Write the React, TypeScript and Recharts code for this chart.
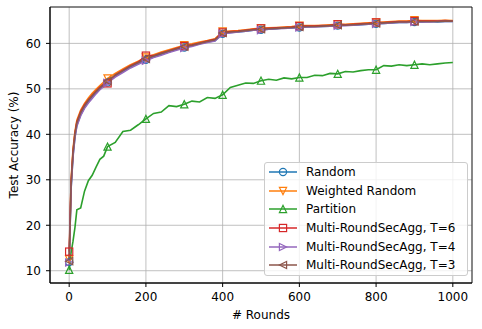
import React from 'react';
import { LineChart, Line, XAxis, YAxis, CartesianGrid, Legend, ReferenceArea } from 'recharts';

const rounds = [
  0, 5, 10, 15, 20, 30, 40, 50, 60, 70, 80, 90, 100, 120, 140, 160, 180, 200, 220, 240,
  260, 280, 300, 320, 340, 360, 380, 400, 420, 440, 460, 480, 500, 520, 540, 560, 580, 600, 620, 640,
  660, 680, 700, 720, 740, 760, 780, 800, 820, 840, 860, 880, 900, 920, 940, 960, 980, 1000,
];

const randomAcc = [
  11.9, 28.2, 35.3, 39.4, 42.0, 44.3, 45.9, 47.2, 48.2, 49.1,
  50.0, 50.7, 51.4, 52.8, 53.8, 54.8, 55.6, 56.4, 57.0, 57.6,
  58.1, 58.7, 59.1, 59.5, 59.9, 60.3, 60.6, 62.1, 62.4, 62.5,
  62.7, 62.9, 63.0, 63.1, 63.2, 63.4, 63.4, 63.5, 63.6, 63.7,
  63.7, 63.8, 63.9, 64.0, 64.0, 64.1, 64.2, 64.3, 64.4, 64.5,
  64.6, 64.6, 64.7, 64.7, 64.8, 64.7, 64.8, 64.8,
];

const weightedAcc = [
  12.5, 30.0, 36.8, 40.6, 43.1, 45.3, 46.8, 48.0, 49.0, 49.9,
  50.7, 51.5, 52.3, 53.4, 54.4, 55.3, 56.1, 56.9, 57.5, 58.1,
  58.6, 59.1, 59.6, 59.9, 60.3, 60.6, 61.0, 62.6, 62.7, 62.8,
  63.0, 63.2, 63.3, 63.4, 63.5, 63.6, 63.7, 63.9, 63.9, 63.9,
  64.0, 64.1, 64.2, 64.2, 64.3, 64.4, 64.5, 64.6, 64.7, 64.8,
  64.9, 64.9, 65.1, 65.0, 65.0, 65.0, 65.1, 65.0,
];

const partitionAcc = [
  10.2, 14.0, 16.5, 19.5, 23.4, 23.8, 27.5, 29.8, 31.0, 32.8,
  34.5, 35.2, 37.3, 38.2, 40.6, 40.9, 42.1, 43.4, 44.6, 44.9,
  46.3, 46.1, 46.6, 47.3, 47.1, 48.1, 47.9, 48.7, 50.3, 50.8,
  51.3, 51.2, 51.8, 52.1, 51.9, 52.4, 52.2, 52.5, 52.5, 53.0,
  52.9, 53.4, 53.3, 53.8, 53.7, 54.0, 54.2, 54.2, 55.1, 55.0,
  55.3, 55.1, 55.3, 55.5, 55.3, 55.5, 55.7, 55.8,
];

const t6Acc = [
  14.2, 29.5, 36.2, 40.2, 42.7, 45.0, 46.5, 47.6, 48.6, 49.5,
  50.4, 51.0, 51.2, 53.1, 54.1, 55.1, 55.9, 57.3, 57.3, 57.9,
  58.4, 58.9, 59.4, 59.7, 60.1, 60.5, 60.9, 62.4, 62.6, 62.7,
  62.9, 63.1, 63.3, 63.3, 63.4, 63.5, 63.6, 63.8, 63.8, 63.8,
  63.9, 64.0, 64.2, 64.1, 64.2, 64.3, 64.4, 64.6, 64.6, 64.7,
  64.8, 64.8, 64.9, 64.9, 64.9, 64.9, 65.0, 64.9,
];

const t4Acc = [
  11.8, 28.0, 35.0, 39.2, 41.8, 44.1, 45.7, 46.9, 47.9, 48.9,
  49.8, 50.5, 51.3, 52.6, 53.6, 54.6, 55.4, 56.2, 56.9, 57.4,
  58.0, 58.5, 59.0, 59.3, 59.8, 60.2, 60.5, 62.1, 62.3, 62.5,
  62.7, 62.9, 62.9, 63.1, 63.2, 63.3, 63.4, 63.5, 63.6, 63.6,
  63.7, 63.8, 63.9, 63.9, 64.0, 64.1, 64.2, 64.3, 64.4, 64.5,
  64.6, 64.6, 64.7, 64.7, 64.7, 64.8, 64.8, 64.8,
];

const t3Acc = [
  12.1, 29.0, 36.0, 40.0, 42.5, 44.8, 46.3, 47.5, 48.5, 49.4,
  50.2, 51.0, 51.7, 53.0, 54.0, 55.0, 55.8, 56.6, 57.2, 57.8,
  58.3, 58.8, 59.3, 59.6, 60.0, 60.4, 60.8, 62.3, 62.5, 62.6,
  62.8, 63.0, 63.1, 63.2, 63.3, 63.4, 63.5, 63.6, 63.7, 63.7,
  63.8, 63.9, 64.0, 64.0, 64.1, 64.2, 64.3, 64.4, 64.5, 64.6,
  64.7, 64.7, 64.8, 64.8, 64.8, 64.8, 64.9, 64.9,
];

const xTicks = [0, 200, 400, 600, 800, 1000];
const yTicks = [10, 20, 30, 40, 50, 60];

type Shape = 'circle' | 'down' | 'up' | 'square' | 'right' | 'left';

const series: { key: string; name: string; color: string; shape: Shape }[] = [
  { key: 'random', name: 'Random', color: '#1f77b4', shape: 'circle' },
  { key: 'weighted', name: 'Weighted Random', color: '#ff7f0e', shape: 'down' },
  { key: 'partition', name: 'Partition', color: '#2ca02c', shape: 'up' },
  { key: 't6', name: 'Multi-RoundSecAgg, T=6', color: '#d62728', shape: 'square' },
  { key: 't4', name: 'Multi-RoundSecAgg, T=4', color: '#9467bd', shape: 'right' },
  { key: 't3', name: 'Multi-RoundSecAgg, T=3', color: '#8c564b', shape: 'left' },
];

const data = rounds.map((r, i) => ({
  round: r,
  random: randomAcc[i],
  weighted: weightedAcc[i],
  partition: partitionAcc[i],
  t6: t6Acc[i],
  t4: t4Acc[i],
  t3: t3Acc[i],
}));

const FONT = '"DejaVu Sans", sans-serif';

function Marker({ shape, cx, cy, color }: { shape: Shape; cx: number; cy: number; color: string }) {
  const h = 3.6;
  const common = { fill: 'none', stroke: color, strokeWidth: 1.2 };
  switch (shape) {
    case 'circle':
      return <circle cx={cx} cy={cy} r={h} {...common} />;
    case 'square':
      return <rect x={cx - h} y={cy - h} width={2 * h} height={2 * h} {...common} />;
    case 'down':
      return <polygon points={`${cx - h},${cy - h} ${cx + h},${cy - h} ${cx},${cy + h}`} {...common} />;
    case 'up':
      return <polygon points={`${cx - h},${cy + h} ${cx + h},${cy + h} ${cx},${cy - h}`} {...common} />;
    case 'right':
      return <polygon points={`${cx - h},${cy - h} ${cx - h},${cy + h} ${cx + h},${cy}`} {...common} />;
    default:
      return <polygon points={`${cx + h},${cy - h} ${cx + h},${cy + h} ${cx - h},${cy}`} {...common} />;
  }
}

const makeDot = (s: { key: string; color: string; shape: Shape }) => (props: any) => {
  const { cx, cy, payload, index } = props;
  const k = `${s.key}-${index}`;
  if (payload.round % 100 !== 0 || payload.round >= 1000 || cx == null || cy == null) return <g key={k} />;
  return (
    <g key={k}>
      <Marker shape={s.shape} cx={cx} cy={cy} color={s.color} />
    </g>
  );
};

const LegendBox = () => (
  <div
    style={{
      border: '1px solid #cccccc',
      borderRadius: 3,
      background: 'rgba(255,255,255,0.8)',
      width: 204,
      boxSizing: 'border-box',
      fontFamily: FONT,
      fontSize: 12,
      color: '#000',
    }}
  >
    {series.map((s) => (
      <div key={s.key} style={{ display: 'flex', alignItems: 'center', height: 18.6 }}>
        <svg width={41} height={12} style={{ display: 'block' }}>
          <line x1={4} y1={6} x2={32} y2={6} stroke={s.color} strokeWidth={1.5} />
          <Marker shape={s.shape} cx={18} cy={6} color={s.color} />
        </svg>
        <span style={{ whiteSpace: 'nowrap' }}>{s.name}</span>
      </div>
    ))}
  </div>
);

export default function App() {
  return (
    <div>
      <style>{'body{margin:0}'}</style>
      <LineChart width={482} height={329} data={data} margin={{ top: 7, right: 10, left: 0, bottom: 0 }}>
        <CartesianGrid stroke="#b0b0b0" strokeWidth={0.8} />
        <XAxis
          dataKey="round"
          type="number"
          domain={[-50, 1050]}
          ticks={xTicks}
          allowDataOverflow
          height={46}
          tickSize={4}
          tickMargin={5}
          stroke="#000"
          tick={{ fontSize: 12, fill: '#000', fontFamily: FONT }}
          label={{ value: '# Rounds', position: 'insideBottom', offset: 10, fontSize: 12, fill: '#000', fontFamily: FONT }}
        />
        <YAxis
          type="number"
          domain={[7.3, 68]}
          ticks={yTicks}
          allowDataOverflow
          width={50}
          tickSize={4}
          tickMargin={5}
          stroke="#000"
          tick={{ fontSize: 12, fill: '#000', fontFamily: FONT }}
          label={{
            value: 'Test Accuracy (%)',
            angle: -90,
            position: 'insideLeft',
            offset: 14,
            fontSize: 12,
            fill: '#000',
            fontFamily: FONT,
            style: { textAnchor: 'middle' },
          }}
        />
        {series.map((s) => (
          <Line
            key={s.key}
            dataKey={s.key}
            name={s.name}
            type="linear"
            stroke={s.color}
            strokeWidth={1.6}
            dot={makeDot(s)}
            activeDot={false}
            isAnimationActive={false}
          />
        ))}
        <ReferenceArea x1={-50} x2={1050} y1={7.3} y2={68} fill="none" stroke="#000" strokeWidth={0.8} />
        <Legend
          layout="vertical"
          align="center"
          verticalAlign="middle"
          content={LegendBox}
          wrapperStyle={{ position: 'absolute', left: 264, top: 162, width: 204, height: 114 }}
        />
      </LineChart>
    </div>
  );
}
